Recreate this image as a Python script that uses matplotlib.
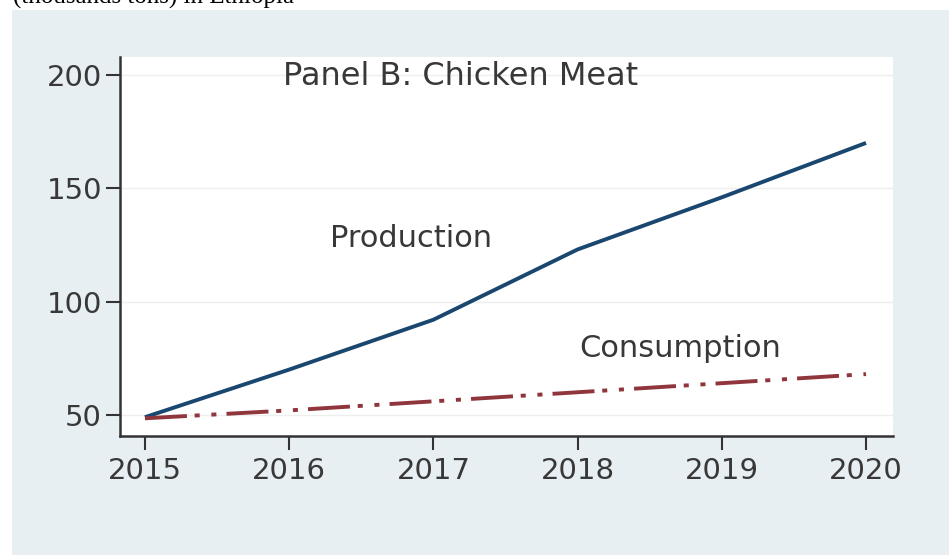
import matplotlib
matplotlib.use("Agg")
import matplotlib.pyplot as plt
from matplotlib.patches import Rectangle

# data (thousands tons)
years = [2015, 2016, 2017, 2018, 2019, 2020]
production = [49, 70, 92, 123, 146, 170]
consumption = [48.5, 52, 56, 60, 64, 68]
yticks = [50, 100, 150, 200]

navy = "#1a476f"
maroon = "#90353b"
bg = "#e8eff2"
txt = "#383838"

fig = plt.figure(figsize=(9.49, 5.55), dpi=100)
fig.patch.set_facecolor("white")

# light panel behind the graph, starts a bit below the cut caption
fig.patches.append(Rectangle((12 / 949, 0), 1, (555 - 10) / 555,
                             transform=fig.transFigure, facecolor=bg,
                             edgecolor="none", zorder=-5))
# caption text from the page above, mostly cut off
fig.text(13 / 949, 1 - 4 / 555, "(thousands tons) in Ethiopia", family="Liberation Serif",
         fontsize=18, va="baseline", ha="left", color="black", zorder=5)

ax = fig.add_axes([120 / 949, 119 / 555, (893 - 120) / 949, (436 - 57) / 555])
ax.set_facecolor("white")
ax.set_zorder(2)

ax.plot(years, production, color=navy, lw=2.8, solid_capstyle="butt")
ax.plot(years, consumption, color=maroon, lw=2.8,
        linestyle=(0, (10.8, 2, 1.3, 3, 1.3, 2.6)), dash_capstyle="butt")

ax.set_xlim(2014.827, 2020.187)
ax.set_ylim(40.7, 207.9)
ax.set_xticks(years)
ax.set_yticks(yticks)

for y in yticks:
    ax.axhline(y, color="#eeeeee", lw=1, zorder=0)

for s in ["top", "right"]:
    ax.spines[s].set_visible(False)
for s in ["left", "bottom"]:
    ax.spines[s].set_color("#333333")
    ax.spines[s].set_linewidth(1.8)

ax.tick_params(axis="both", colors="#333333", width=1.5, length=10,
               labelsize=21, labelcolor=txt)
ax.tick_params(axis="x", pad=5)
ax.tick_params(axis="y", pad=3)

ax.text(2017.19, 206, "Panel B: Chicken Meat", fontsize=23, color=txt,
        ha="center", va="top")
ax.text(2016.845, 128, "Production", fontsize=22, color=txt, ha="center", va="center")
ax.text(2018.71, 79.5, "Consumption", fontsize=22, color=txt, ha="center", va="center")

plt.savefig("out.png", dpi=100)
